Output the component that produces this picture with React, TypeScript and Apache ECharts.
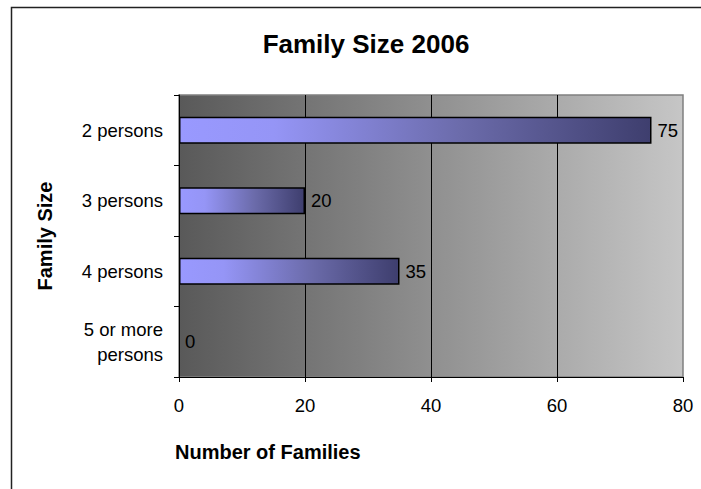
import React, { useEffect, useRef } from "react";
import * as echarts from "echarts";

const categories = ["2 persons", "3 persons", "4 persons", "5 or more\npersons"];
const families = [75, 20, 35, 0];
const xTicks = { min: 0, max: 80, interval: 20 };
const titleText = "Family Size 2006";
const xName = "Number of Families";
const yName = "Family Size";

const FONT = "'Liberation Sans', Arial, Helvetica, sans-serif";

export default function App() {
  const ref = useRef<HTMLDivElement>(null);
  useEffect(() => {
    if (!ref.current) return;
    const chart = echarts.init(ref.current, null, { renderer: "svg" });
    const option: any = {
      animation: false,
      backgroundColor: "#ffffff",
      textStyle: { fontFamily: FONT },
      graphic: [
        {
          type: "rect",
          shape: { x: 11.5, y: 7.5, width: 900, height: 700 },
          style: { fill: "none", stroke: "#222", lineWidth: 1.5 },
          silent: true,
          z: -1,
        },
        {
          type: "text",
          x: 366,
          y: 44,
          style: {
            text: titleText,
            font: `bold 26px ${FONT}`,
            fill: "#000",
            textAlign: "center",
            textVerticalAlign: "middle",
          },
        },
        {
          type: "text",
          x: 175,
          y: 452,
          style: {
            text: xName,
            font: `bold 20px ${FONT}`,
            fill: "#000",
            textAlign: "left",
            textVerticalAlign: "middle",
          },
        },
        {
          type: "text",
          x: 45,
          y: 236,
          rotation: Math.PI / 2,
          style: {
            text: yName,
            font: `bold 20px ${FONT}`,
            fill: "#000",
            textAlign: "center",
            textVerticalAlign: "middle",
          },
        },
      ],
      grid: {
        left: 179,
        top: 95,
        right: 18,
        bottom: 112,
        containLabel: false,
        outerBoundsMode: "none",
        show: true,
        borderColor: "#808080",
        borderWidth: 1.5,
        backgroundColor: new echarts.graphic.LinearGradient(0, 0, 1, 0, [
          { offset: 0, color: "#595959" },
          { offset: 1, color: "#c6c6c6" },
        ]),
      },
      xAxis: {
        type: "value",
        min: xTicks.min,
        max: xTicks.max,
        interval: xTicks.interval,
        axisLine: { show: true, lineStyle: { color: "#000", width: 1 } },
        axisTick: { show: true, length: 5, lineStyle: { color: "#000" } },
        axisLabel: { fontSize: 18.5, color: "#000", margin: 19, fontFamily: FONT },
        splitLine: { show: true, showMinLine: false, showMaxLine: false, lineStyle: { color: "#000", width: 1 } },
      },
      yAxis: {
        type: "category",
        inverse: true,
        data: categories,
        axisLine: { show: true, lineStyle: { color: "#000", width: 1 } },
        axisTick: { show: true, length: 5, lineStyle: { color: "#000" } },
        axisLabel: {
          fontSize: 18.5,
          color: "#000",
          margin: 16,
          lineHeight: 25,
          align: "right",
          fontFamily: FONT,
        },
        splitLine: { show: false },
      },
      series: [
        {
          type: "bar",
          data: families.map((v) =>
            v === 0
              ? { value: v, itemStyle: { borderWidth: 0, borderColor: "transparent", color: "transparent" } }
              : v
          ),
          barWidth: 27,
          itemStyle: {
            color: new echarts.graphic.LinearGradient(0, 0, 1, 0, [
              { offset: 0, color: "#9999ff" },
              { offset: 0.2, color: "#9595f6" },
              { offset: 0.6, color: "#6b6baa" },
              { offset: 1, color: "#3e3e6e" },
            ]),
            borderColor: "#000",
            borderWidth: 1.5,
          },
          label: {
            show: true,
            position: "right",
            distance: 6,
            fontSize: 18.5,
            color: "#000",
            fontFamily: FONT,
          },
        },
      ],
    };
    chart.setOption(option);
    return () => chart.dispose();
  }, []);
  return (
    <div
      ref={ref}
      style={{ position: "fixed", left: 0, top: 0, width: 701, height: 489 }}
    />
  );
}
